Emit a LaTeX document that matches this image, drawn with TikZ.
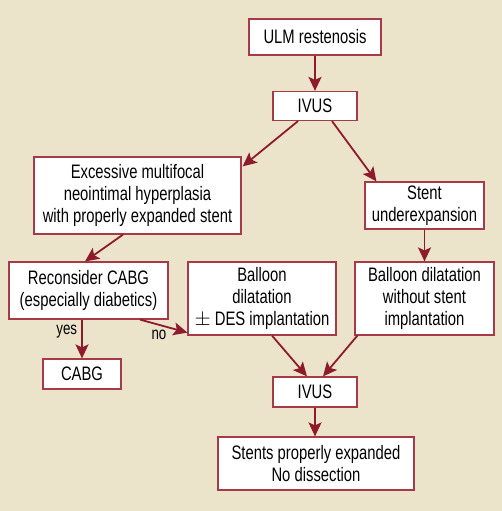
\documentclass[tikz,border=0pt]{standalone}
\usepackage{fontspec}
\setmainfont{Liberation Sans}[FakeStretch=0.76]
\usetikzlibrary{arrows.meta,calc}
\definecolor{bg}{HTML}{EBE4CB}
\definecolor{dred}{HTML}{8E1B2B}
\definecolor{bred}{HTML}{A63A48}
\begin{document}
\begin{tikzpicture}[x=1pt,y=-1pt,
  box/.style={draw=bred,line width=1.2pt,fill=white,align=center,inner sep=0pt,
    font=\fontsize{19.5}{21.7}\selectfont},
  arr/.style={draw=dred,line width=1.8pt,-{Stealth[length=14pt,width=13pt,inset=3pt]}},
  lbl/.style={font=\fontsize{17.5}{19}\selectfont,inner sep=0pt}]
\fill[bg] (0,0) rectangle (502,511);
\useasboundingbox (0,0) rectangle (502,511);
\node[box,minimum width=132pt,minimum height=36pt] (ulm) at (315,37) {ULM restenosis};
\node[box,minimum width=84pt,minimum height=29pt] (ivusa) at (315,106) {IVUS};
\node[box,minimum width=207pt,minimum height=77pt] (exc) at (137.5,195.5) {Excessive multifocal\\neointimal hyperplasia\\with properly expanded stent};
\node[box,minimum width=119pt,minimum height=47pt] (stent) at (424.5,205.5) {Stent\\underexpansion};
\node[box,minimum width=159pt,minimum height=57pt] (recon) at (88.5,290.5) {Reconsider CABG\\(especially diabetics)};
\node[box,minimum width=148pt,minimum height=73pt] (bdes) at (262,298.5) {Balloon\\dilatation\\$\pm$ DES implantation};
\node[box,minimum width=139pt,minimum height=73pt] (bwo) at (424.5,298.5) {Balloon dilatation\\without stent\\implantation};
\node[box,minimum width=78pt,minimum height=30pt] (cabg) at (82,374) {CABG};
\node[box,minimum width=84pt,minimum height=30pt] (ivusb) at (315,392) {IVUS};
\node[box,minimum width=196pt,minimum height=53pt] (stents) at (316,463.5) {Stents properly expanded\\No dissection};
\draw[arr] (ulm.south) -- (ivusa.north);
\draw[arr] ($(ivusa.south)+(-17,0)$) -- ($(exc.north east)+(1,10)$);
\draw[arr] ($(ivusa.south)+(17,0)$) -- ($(stent.north west)+(12,0)$);
\draw[arr] ($(exc.south)+(-14.5,0)$) -- ($(recon.north)+(-3.5,0)$);
\draw[arr] (cabg.north |- recon.south) -- node[lbl,left=4pt,pos=0.3]{yes} (cabg.north);
\draw[arr] ($(recon.south)+(51.5,0)$) -- node[lbl,below=4pt,pos=0.4]{no} ($(bdes.south west)+(0,-3)$);
\draw[arr] (stent.south) -- (bwo.north);
\draw[arr] ($(bdes.south)+(10,0)$) -- ($(ivusb.north)+(-8,0)$);
\draw[arr] ($(bwo.south west)+(3,0)$) -- ($(ivusb.north)+(8,0)$);
\draw[arr] (ivusb.south) -- (stents.north -| ivusb.south);
\end{tikzpicture}
\end{document}
